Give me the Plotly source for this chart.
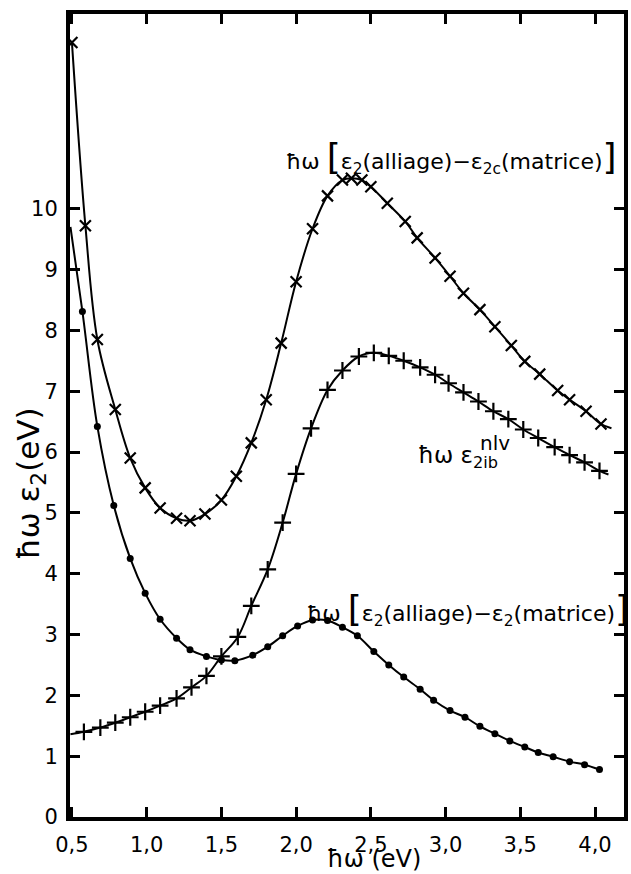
import plotly.graph_objects as go

# ---- data ----
# series with x markers: hw[e2(alliage) - e2c(matrice)]
cross_x = [0.50, 0.59, 0.67, 0.79, 0.89, 0.99, 1.09, 1.20, 1.29, 1.39, 1.50, 1.60, 1.70, 1.80,
           1.90, 2.00, 2.11, 2.21, 2.31, 2.37, 2.44, 2.50, 2.61, 2.73, 2.81, 2.93, 3.03, 3.12,
           3.23, 3.33, 3.44, 3.53, 3.63, 3.75, 3.83, 3.94, 4.04]
cross_y = [12.73, 9.72, 7.85, 6.70, 5.90, 5.41, 5.08, 4.91, 4.87, 4.98, 5.21, 5.60, 6.15, 6.86,
           7.79, 8.80, 9.67, 10.21, 10.47, 10.50, 10.47, 10.36, 10.09, 9.79, 9.52, 9.19, 8.89, 8.61,
           8.34, 8.06, 7.75, 7.49, 7.28, 7.01, 6.86, 6.67, 6.46]
cross_line_end = (4.11, 6.39)

# series with + markers: hw e2ib^nlv
plus_x = [0.58, 0.69, 0.79, 0.89, 0.99, 1.09, 1.20, 1.30, 1.40, 1.50, 1.61, 1.70, 1.81, 1.91,
          2.00, 2.10, 2.21, 2.31, 2.42, 2.52, 2.62, 2.72, 2.83, 2.93, 3.02, 3.12, 3.22, 3.32,
          3.42, 3.52, 3.62, 3.73, 3.83, 3.93, 4.03]
plus_y = [1.40, 1.47, 1.55, 1.64, 1.73, 1.83, 1.95, 2.13, 2.32, 2.64, 2.96, 3.47, 4.07, 4.84,
          5.64, 6.39, 7.02, 7.34, 7.57, 7.63, 7.58, 7.50, 7.39, 7.27, 7.13, 6.98, 6.83, 6.67,
          6.54, 6.37, 6.23, 6.08, 5.95, 5.83, 5.69]
plus_line_start = (0.49, 1.36)
plus_line_end = (4.09, 5.63)

# series with dots: hw[e2(alliage) - e2(matrice)]
dot_x = [0.57, 0.67, 0.78, 0.89, 0.99, 1.09, 1.20, 1.29, 1.40, 1.50, 1.59, 1.71, 1.81, 1.91,
         2.01, 2.11, 2.21, 2.31, 2.41, 2.52, 2.62, 2.72, 2.83, 2.92, 3.03, 3.13, 3.23, 3.33,
         3.43, 3.53, 3.62, 3.72, 3.83, 3.93, 4.03]
dot_y = [8.31, 6.42, 5.12, 4.25, 3.68, 3.25, 2.94, 2.75, 2.64, 2.58, 2.57, 2.66, 2.80, 2.98,
         3.14, 3.24, 3.23, 3.12, 2.98, 2.72, 2.50, 2.30, 2.10, 1.92, 1.75, 1.64, 1.49, 1.37,
         1.25, 1.15, 1.06, 0.99, 0.91, 0.86, 0.78]
dot_line_start = (0.49, 9.70)

x_tickvals = [0.5, 1.0, 1.5, 2.0, 2.5, 3.0, 3.5, 4.0]
x_ticktext = ["0,5", "1,0", "1,5", "2,0", "2,5", "3,0", "3,5", "4,0"]
y_tickvals = [0, 1, 2, 3, 4, 5, 6, 7, 8, 9, 10]
y_ticktext = ["0", "1", "2", "3", "4", "5", "6", "7", "8", "9", "10"]

FONT = "DejaVu Sans"
BLACK = "black"

fig = go.Figure()

# smooth curves
fig.add_trace(go.Scatter(
    x=cross_x + [cross_line_end[0]], y=cross_y + [cross_line_end[1]],
    mode="lines", line=dict(color=BLACK, width=2, shape="spline", smoothing=1.0),
    hoverinfo="skip", showlegend=False))
fig.add_trace(go.Scatter(
    x=[plus_line_start[0]] + plus_x + [plus_line_end[0]],
    y=[plus_line_start[1]] + plus_y + [plus_line_end[1]],
    mode="lines", line=dict(color=BLACK, width=2, shape="spline", smoothing=1.0),
    hoverinfo="skip", showlegend=False))
fig.add_trace(go.Scatter(
    x=[dot_line_start[0]] + dot_x, y=[dot_line_start[1]] + dot_y,
    mode="lines", line=dict(color=BLACK, width=2, shape="spline", smoothing=1.0),
    hoverinfo="skip", showlegend=False))

# markers
fig.add_trace(go.Scatter(
    x=cross_x, y=cross_y, mode="markers",
    marker=dict(symbol="x-thin", size=11, line=dict(color=BLACK, width=2.2)),
    showlegend=False))
fig.add_trace(go.Scatter(
    x=plus_x, y=plus_y, mode="markers",
    marker=dict(symbol="cross-thin", size=12, line=dict(color=BLACK, width=2.2)),
    showlegend=False))
fig.add_trace(go.Scatter(
    x=dot_x, y=dot_y, mode="markers",
    marker=dict(symbol="circle", size=7, color=BLACK),
    showlegend=False))

big = '<span style="font-size:36px">%s</span>'
annotations = [
    dict(x=1.92, y=10.85, xanchor="left", yanchor="middle",
         text="ħω " + big % "[" + "ε<sub>2</sub>(alliage)−ε<sub>2c</sub>(matrice)" + big % "]",
         font=dict(size=22)),
    dict(x=2.80, y=5.92, xanchor="left", yanchor="middle",
         text="ħω ε<sub>2ib</sub>", font=dict(size=23)),
    dict(x=3.22, y=6.14, xanchor="left", yanchor="middle",
         text="nlv", font=dict(size=20)),
    dict(x=2.06, y=3.42, xanchor="left", yanchor="middle",
         text="ħω " + big % "[" + "ε<sub>2</sub>(alliage)−ε<sub>2</sub>(matrice)" + big % "]",
         font=dict(size=22)),
    # axis titles
    dict(xref="paper", yref="paper", x=0, y=0.415, xshift=-39, textangle=-90,
         xanchor="center", yanchor="middle",
         text="ħω ε<sub>2</sub>(eV)", font=dict(size=31)),
    dict(x=2.52, yref="paper", y=0, yshift=-42, xanchor="center", yanchor="middle",
         text="ħω (eV)", font=dict(size=24)),
]
for a in annotations:
    a.setdefault("showarrow", False)
    a["font"] = dict(family=FONT, color=BLACK, **a["font"])

fig.update_layout(
    width=631, height=874,
    margin=dict(l=70, r=3, t=14, b=57),
    paper_bgcolor="white", plot_bgcolor="white",
    font=dict(family=FONT, color=BLACK, size=21),
    annotations=annotations,
    showlegend=False,
)
fig.update_xaxes(
    range=[0.487, 4.194], tickvals=x_tickvals, ticktext=x_ticktext,
    ticks="inside", ticklen=10, tickwidth=3, tickcolor=BLACK,
    showline=True, linewidth=4, linecolor=BLACK, mirror="ticks",
    showgrid=False, zeroline=False, ticklabelstandoff=6,
)
fig.update_yaxes(
    range=[0, 13.2], tickvals=y_tickvals, ticktext=y_ticktext,
    ticks="inside", ticklen=10, tickwidth=3, tickcolor=BLACK,
    showline=True, linewidth=4, linecolor=BLACK, mirror="ticks",
    showgrid=False, zeroline=False, ticklabelstandoff=4,
)

fig.write_html("out.html", config={"displayModeBar": False},
               post_script="document.body.style.margin='0px';")
